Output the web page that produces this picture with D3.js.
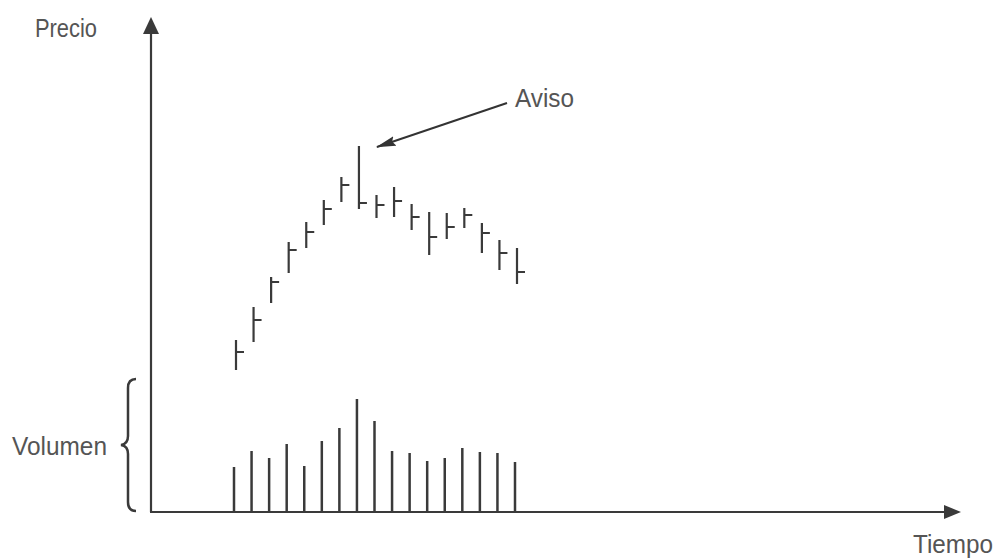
<!DOCTYPE html>
<html><head><meta charset="utf-8">
<script src="https://cdn.jsdelivr.net/npm/d3@7"></script>
<style>html,body{margin:0;padding:0;background:#fff;}svg{display:block;}</style>
</head><body>
<script>
const days = d3.range(1, 18);
const highs  = [50, 83, 113, 148, 168, 190, 213, 244, 195, 203, 186, 178, 177, 182, 167, 150, 142];
const lows   = [20, 48,  87, 117, 142, 165, 188, 181, 172, 173, 160, 135, 151, 162, 137, 120, 106];
const closes = [38, 70, 108, 140, 158, 181, 205, 187, 185, 189, 173, 153, 163, 175, 157, 137, 118];
const volumes = [44, 60, 53, 67, 45, 70, 83, 112, 90, 60, 58, 50, 53, 63, 59, 58, 49];
const labels = {price: "Precio", volume: "Volumen", time: "Tiempo", note: "Aviso"};

const W = 995, H = 558;
const svg = d3.select("body").append("svg").attr("width", W).attr("height", H);
const ink = "#3a3a3a", txt = "#555";

const x = d3.scaleLinear().domain([1, 17]).range([236, 517]);
const y = d3.scaleLinear().domain([0, 250]).range([390, 140]);
const yv = d3.scaleLinear().domain([0, 120]).range([511, 391]);

const defs = svg.append("defs");
defs.append("marker").attr("id", "ah").attr("viewBox", "0 0 20 10")
  .attr("refX", 19).attr("refY", 5).attr("markerWidth", 20).attr("markerHeight", 10)
  .attr("markerUnits", "userSpaceOnUse").attr("orient", "auto")
  .append("path").attr("d", "M0,0 L20,5 L0,10 L3,5 z").attr("fill", "#333");

// axes
const ax = 151, ay = 512;
svg.append("line").attr("x1", ax).attr("y1", ay).attr("x2", ax).attr("y2", 30)
  .attr("stroke", ink).attr("stroke-width", 2.2);
svg.append("path").attr("d", `M${ax},17 L${ax-8},34 L${ax+8},34 Z`).attr("fill", ink);
svg.append("line").attr("x1", ax - 1).attr("y1", ay).attr("x2", 946).attr("y2", ay)
  .attr("stroke", ink).attr("stroke-width", 2.2);
svg.append("path").attr("d", `M961,${ay} L944,${ay-7} L944,${ay+7} Z`).attr("fill", ink);

// price bars
const g = svg.append("g");
days.forEach((d, i) => {
  g.append("line").attr("x1", x(d)).attr("x2", x(d)).attr("y1", y(highs[i])).attr("y2", y(lows[i]))
    .attr("stroke", ink).attr("stroke-width", 2.2);
  g.append("line").attr("x1", x(d)).attr("x2", x(d) + 8).attr("y1", y(closes[i])).attr("y2", y(closes[i]))
    .attr("stroke", ink).attr("stroke-width", 2);
});

// volume bars
days.forEach((d, i) => {
  g.append("line").attr("x1", x(d) - 2).attr("x2", x(d) - 2).attr("y1", yv(0)).attr("y2", yv(volumes[i]))
    .attr("stroke", ink).attr("stroke-width", 2.5);
});

// brace
svg.append("path")
  .attr("d", "M136,379 Q128,379 128,388 L128,436 Q128,444 121,445 Q128,446 128,454 L128,502 Q128,511 136,511")
  .attr("fill", "none").attr("stroke", ink).attr("stroke-width", 2.5);

// labels
const font = "'Liberation Sans', Arial, sans-serif";
function label(t, x0, base, w) {
  svg.append("text").attr("x", x0).attr("y", base).text(t)
    .attr("font-family", font).attr("font-size", 25).attr("fill", txt)
    .attr("textLength", w).attr("lengthAdjust", "spacingAndGlyphs");
}
label(labels.price, 35, 37, 62);
label(labels.volume, 12, 455, 95);
label(labels.time, 913, 553, 80);
label(labels.note, 515, 107, 59);

// annotation arrow pointing at the peak bar
svg.append("line").attr("x1", 507).attr("y1", 103).attr("x2", x(8) + 18).attr("y2", y(highs[7]) + 1)
  .attr("stroke", "#333").attr("stroke-width", 2).attr("marker-end", "url(#ah)");
</script>
</body></html>
